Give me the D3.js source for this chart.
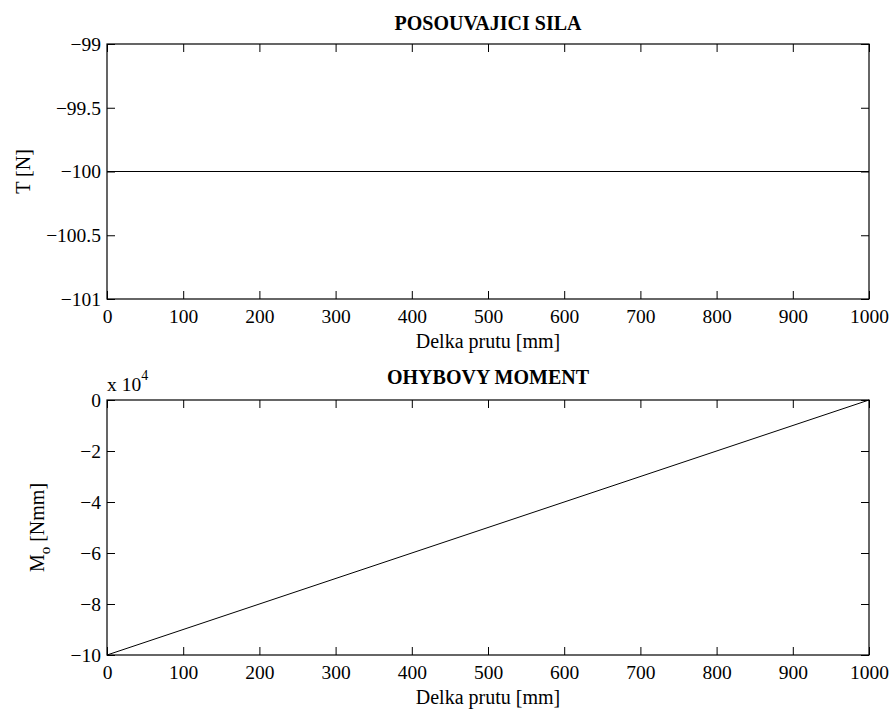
<!DOCTYPE html>
<html lang="en">
<head>
    <meta charset="UTF-8">
    <title>Posouvajici sila a ohybovy moment</title>
    <script src="https://d3js.org/d3.v7.min.js"></script>
    <style>
        body {
            margin: 0;
            background: #fff;
        }
        svg {
            display: block;
        }
        text {
            font-family: "Liberation Serif", "Times New Roman", serif;
            font-size: 20px;
            fill: #000;
        }
        .title {
            font-weight: bold;
        }
    </style>
</head>
<body>
    <div id="chart"></div>

    <script>
        // x axis ticks (shared)
        const xTicks = [0, 100, 200, 300, 400, 500, 600, 700, 800, 900, 1000];

        // top plot: shear force
        const shearX = [0, 1000];
        const shearY = [-100, -100];
        const shearYTicks = [-99, -99.5, -100, -100.5, -101];

        // bottom plot: bending moment (units of 10^4 Nmm)
        const momentX = [0, 1000];
        const momentY = [-10, 0];
        const momentYTicks = [0, -2, -4, -6, -8, -10];

        const width = 895, height = 709;
        const left = 107, right = 869;

        const svg = d3.select("#chart")
            .append("svg")
            .attr("width", width)
            .attr("height", height);

        const fmt = v => String(v).replace("-", "\u2212");

        function drawPanel(cfg) {
            const x = d3.scaleLinear().domain([0, 1000]).range([left, right]);
            const y = d3.scaleLinear().domain(cfg.yDomain).range([cfg.bottom, cfg.top]);
            const g = svg.append("g");
            const tick = 8;

            // inner ticks on all four sides (matlab style)
            g.append("g")
                .attr("transform", `translate(0,${cfg.bottom})`)
                .call(d3.axisBottom(x).tickValues(xTicks).tickSize(-tick).tickPadding(10).tickFormat(fmt))
                .call(a => a.select(".domain").remove());
            g.append("g")
                .attr("transform", `translate(0,${cfg.top})`)
                .call(d3.axisTop(x).tickValues(xTicks).tickSize(-tick).tickFormat(""))
                .call(a => a.select(".domain").remove());
            g.append("g")
                .attr("transform", `translate(${left},0)`)
                .call(d3.axisLeft(y).tickValues(cfg.yTicks).tickSize(-tick).tickPadding(6).tickFormat(fmt))
                .call(a => a.select(".domain").remove());
            g.append("g")
                .attr("transform", `translate(${right},0)`)
                .call(d3.axisRight(y).tickValues(cfg.yTicks).tickSize(-tick).tickFormat(""))
                .call(a => a.select(".domain").remove());

            g.selectAll(".tick line").attr("stroke", "#000").attr("stroke-width", 1);
            g.selectAll(".tick text")
                .style("font-family", '"Liberation Serif", "Times New Roman", serif')
                .style("font-size", "19.5px");

            g.append("rect")
                .attr("x", left).attr("y", cfg.top)
                .attr("width", right - left).attr("height", cfg.bottom - cfg.top)
                .attr("fill", "none").attr("stroke", "#000").attr("stroke-width", 1.2);

            const line = d3.line().x(d => x(d[0])).y(d => y(d[1]));
            g.append("path")
                .datum(d3.zip(cfg.xs, cfg.ys))
                .attr("d", line)
                .attr("fill", "none")
                .attr("stroke", "#000")
                .attr("stroke-width", 1);

            g.append("text")
                .attr("class", "title")
                .attr("x", (left + right) / 2)
                .attr("y", cfg.top - cfg.titleGap)
                .attr("text-anchor", "middle")
                .text(cfg.title);

            g.append("text")
                .attr("x", (left + right) / 2)
                .attr("y", cfg.bottom + 49)
                .attr("text-anchor", "middle")
                .text("Delka prutu [mm]");

            const yl = g.append("text")
                .attr("transform", `translate(${cfg.ylabelX},${(cfg.top + cfg.bottom) / 2}) rotate(-90)`)
                .attr("text-anchor", "middle");
            cfg.ylabel(yl);
            return g;
        }

        drawPanel({
            top: 44, bottom: 299,
            yDomain: [-101, -99], yTicks: shearYTicks,
            xs: shearX, ys: shearY,
            title: "POSOUVAJICI SILA", titleGap: 14,
            ylabelX: 30,
            ylabel: t => t.text("T [N]")
        });

        const bottomPanel = drawPanel({
            top: 400, bottom: 655,
            yDomain: [-10, 0], yTicks: momentYTicks,
            xs: momentX, ys: momentY,
            title: "OHYBOVY MOMENT", titleGap: 16,
            ylabelX: 44,
            ylabel: t => {
                t.append("tspan").text("M");
                t.append("tspan").attr("dy", 6).style("font-size", "15px").text("o");
                t.append("tspan").attr("dy", -6).text(" [Nmm]");
            }
        });

        // exponent label
        const ex = bottomPanel.append("text")
            .attr("x", 107)
            .attr("y", 391)
            .style("font-size", "19.5px");
        ex.append("tspan").text("x 10");
        ex.append("tspan").attr("dy", -11).style("font-size", "14px").text("4");
    </script>
</body>
</html>
